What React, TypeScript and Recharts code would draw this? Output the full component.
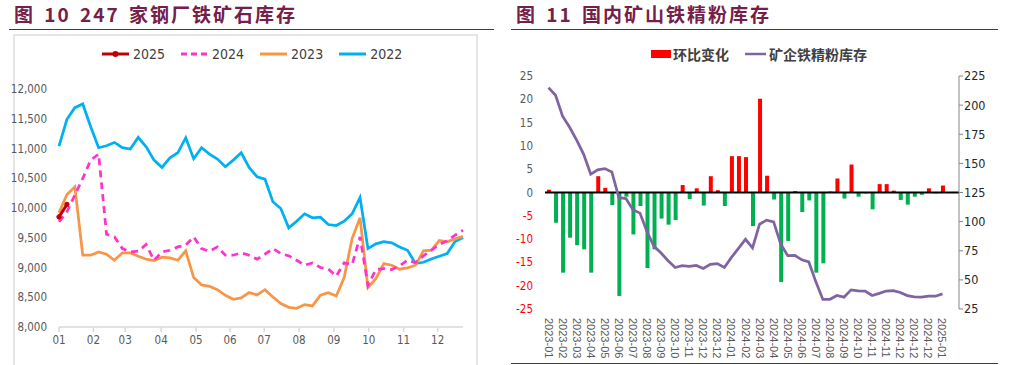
import React from "react";
import {
  LineChart,
  Line,
  XAxis,
  YAxis,
  ComposedChart,
  Bar,
  Cell,
  ReferenceLine,
} from "recharts";

const NUM_FONT =
  '"Liberation Sans Narrow", "DejaVu Sans Condensed", "Liberation Sans", Arial, sans-serif';
const CJK_FONT = '"Noto Sans CJK SC", "Noto Sans", sans-serif';
const TITLE_COLOR = "#74204A";

// ---- 图10: 247家钢厂铁矿石库存 (weekly, by year) ----
const monthTicks = [0, 4.35, 8.35, 12.9, 17.3, 21.6, 25.9, 30.3, 34.7, 39.1, 43.5, 47.8];
const monthLabels = ["01", "02", "03", "04", "05", "06", "07", "08", "09", "10", "11", "12"];

const inv2025 = [9850, 10060];
const inv2024 = [
  9767, 9935, 10216, 10497, 10805, 10906, 9560, 9515, 9318, 9262,
  9274, 9386, 9122, 9262, 9290, 9346, 9375, 9515, 9318, 9274,
  9346, 9206, 9206, 9246, 9206, 9139, 9223, 9318, 9234, 9195,
  9122, 9038, 9077, 8999, 8976, 8853, 9077, 9049, 9515, 8701,
  8965, 8982, 8965, 9027, 9122, 9083, 9195, 9290, 9386, 9447,
  9543, 9627,
];
const inv2023 = [
  9919, 10227, 10356, 9206, 9206, 9262, 9223, 9122, 9246, 9246,
  9189, 9139, 9116, 9173, 9161, 9122, 9279, 8830, 8707, 8684,
  8628, 8533, 8466, 8488, 8578, 8539, 8628, 8505, 8393, 8331,
  8314, 8376, 8354, 8533, 8578, 8522, 8830, 9487, 9835, 8662,
  8813, 9066, 9038, 8971, 8993, 9038, 9279, 9290, 9453, 9431,
  9481, 9526,
];
const inv2022 = [
  11041, 11490, 11686, 11748, 11366, 11013, 11046, 11102, 11013, 10990,
  11187, 11029, 10805, 10682, 10844, 10928, 11181, 10828, 11013, 10906,
  10822, 10693, 10805, 10928, 10682, 10525, 10485, 10104, 9992, 9666,
  9778, 9902, 9835, 9846, 9722, 9706, 9778, 9902, 10177, 9318,
  9397, 9436, 9414, 9346, 9290, 9066, 9088, 9144, 9189, 9234,
  9436, 9504,
];
const invTicks = [8000, 8500, 9000, 9500, 10000, 10500, 11000, 11500, 12000];

// ---- 图11: 国内矿山铁精粉库存 ----
const momChange = [
  0.6, -6.5, -17.2, -9.7, -11.3, -12.2, -17.2, 3.5, 1.0, -2.7,
  -22.2, -0.9, -9.0, -2.9, -16.2, -12.2, -5.6, -6.9, -5.9, 1.6,
  -1.4, 0.9, -2.8, 3.5, 0.5, -2.9, 7.8, 7.8, 7.6, -7.2,
  20.1, 3.6, -1.5, -19.2, -10.4, 0.3, -4.2, -1.7, -17.2, -15.2,
  0.2, 3.0, -1.3, 6.0, -0.9, -0.2, -3.6, 1.8, 1.8, 0.4,
  -1.6, -2.6, -0.9, -0.5, 0.9, -0.2, 1.5,
];
const mineStock = [
  215.0, 208.5, 190.5, 181.0, 170.0, 157.8, 140.8, 144.5, 145.5, 142.6,
  120.6, 119.8, 110.3, 107.3, 91.3, 78.8, 73.0, 66.4, 60.6, 62.2,
  61.6, 62.4, 59.8, 63.4, 64.0, 60.6, 69.3, 77.0, 84.8, 77.4,
  97.8, 101.3, 99.8, 80.9, 70.8, 71.1, 67.2, 65.4, 48.3, 33.2,
  33.3, 36.6, 35.2, 41.4, 40.5, 40.4, 36.6, 38.4, 40.4, 40.7,
  39.2, 36.5, 35.5, 35.2, 36.0, 36.0, 38.0,
];
// one label every second observation
const dateLabels = [
  "2023-01", "2023-02", "2023-03", "2023-04", "2023-05", "2023-06", "2023-07",
  "2023-08", "2023-09", "2023-10", "2023-11", "2023-12", "2023-12", "2024-01",
  "2024-02", "2024-03", "2024-04", "2024-05", "2024-06", "2024-07", "2024-08",
  "2024-09", "2024-10", "2024-11", "2024-11", "2024-12", "2024-12", "2024-12",
  "2025-01",
];
const momTicks = [-25, -20, -15, -10, -5, 0, 5, 10, 15, 20, 25];
const stockTicks = [25, 50, 75, 100, 125, 150, 175, 200, 225];

const invData = inv2022.map((v, i) => ({
  w: i,
  y2022: v,
  y2023: inv2023[i],
  y2024: inv2024[i],
  y2025: i < inv2025.length ? inv2025[i] : null,
}));

const mineData = momChange.map((v, i) => ({
  idx: i,
  mom: v,
  stock: mineStock[i],
}));

const fmtThousands = (v: number) => v.toLocaleString("en-US");

const Title = ({ left, text }: { left: number; text: string }) => (
  <div
    style={{
      position: "absolute",
      left,
      top: 2,
      fontFamily: CJK_FONT,
      fontWeight: 700,
      fontSize: 19,
      lineHeight: "24px",
      letterSpacing: 2,
      wordSpacing: 3,
      color: TITLE_COLOR,
      whiteSpace: "pre",
    }}
  >
    {text}
  </div>
);

const Rule = ({ left, width, top }: { left: number; width: number; top: number }) => (
  <div
    style={{
      position: "absolute",
      left,
      top,
      width,
      height: 0,
      borderTop: `1.5px solid ${TITLE_COLOR}`,
    }}
  />
);

const yearLegend = [
  { name: "2025", color: "#C00000", dash: "", dot: true },
  { name: "2024", color: "#FF33CC", dash: "6 4", dot: false },
  { name: "2023", color: "#F79646", dash: "", dot: false },
  { name: "2022", color: "#00B0F0", dash: "", dot: false },
];

const MomTick = ({ x, y, payload }: any) => (
  <text
    x={x}
    y={y}
    dy={4}
    textAnchor="end"
    fontSize={11.5}
    fontFamily={NUM_FONT}
    fill={payload.value < 0 ? "#FF0000" : "#595959"}
  >
    {payload.value}
  </text>
);

const DateTick = ({ x, y, payload }: any) => {
  const label = dateLabels[Math.round(payload.value / 2)];
  if (payload.value % 2 !== 0 || !label) return null;
  return (
    <text
      x={x}
      y={y}
      transform={`rotate(90 ${x} ${y})`}
      textAnchor="start"
      dominantBaseline="central"
      fontSize={11}
      fontFamily='"Liberation Sans", Arial, sans-serif'
      fill="#595959"
    >
      {label}
    </text>
  );
};

export default function App() {
  return (
    <div
      style={{
        position: "absolute",
        left: 0,
        top: 0,
        width: 1010,
        height: 365,
        background: "#fff",
        overflow: "hidden",
      }}
    >
      <Title left={14} text="图 10 247 家钢厂铁矿石库存" />
      <Rule left={9} width={485} top={29} />
      <Title left={516} text="图 11 国内矿山铁精粉库存" />
      <Rule left={511} width={487} top={29} />
      <Rule left={511} width={487} top={363} />

      {/* left panel frame */}
      <div
        style={{
          position: "absolute",
          left: 13,
          top: 34,
          width: 461,
          height: 340,
          border: "2px solid #E6E6E6",
        }}
      />

      {/* left legend */}
      <div
        style={{
          position: "absolute",
          left: 101,
          top: 45,
          height: 18,
          display: "flex",
          alignItems: "center",
          gap: 15,
          fontFamily: NUM_FONT,
          fontSize: 14,
          color: "#404040",
        }}
      >
        {yearLegend.map((s) => (
          <div key={s.name} style={{ display: "flex", alignItems: "center", gap: 3 }}>
            <svg width={29} height={10}>
              <line
                x1={1}
                y1={5}
                x2={28}
                y2={5}
                stroke={s.color}
                strokeWidth={3}
                strokeDasharray={s.dash}
              />
              {s.dot && <circle cx={14.5} cy={5} r={3} fill={s.color} />}
            </svg>
            <span>{s.name}</span>
          </div>
        ))}
      </div>

      <div style={{ position: "absolute", left: 0, top: 0 }}>
        <LineChart
          width={480}
          height={365}
          data={invData}
          margin={{ top: 89, right: 17, bottom: 0, left: 0 }}
        >
          <XAxis
            dataKey="w"
            type="number"
            domain={[0, 51]}
            ticks={monthTicks}
            interval={0}
            height={38}
            tickFormatter={(v) => monthLabels[monthTicks.indexOf(v)] ?? ""}
            axisLine={{ stroke: "#D9D9D9", strokeWidth: 1.5 }}
            tickLine={{ stroke: "#D9D9D9", strokeWidth: 1.5 }}
            tickSize={5}
            tickMargin={4}
            tick={{ fill: "#595959", fontSize: 11.5, fontFamily: NUM_FONT }}
          />
          <YAxis
            type="number"
            domain={[8000, 12000]}
            ticks={invTicks}
            interval={0}
            width={59}
            axisLine={false}
            tickLine={false}
            tickSize={0}
            tickMargin={12}
            tickFormatter={fmtThousands}
            tick={{ fill: "#595959", fontSize: 11.5, fontFamily: NUM_FONT }}
          />
          <Line
            dataKey="y2022"
            stroke="#00B0F0"
            strokeWidth={2.75}
            dot={false}
            isAnimationActive={false}
          />
          <Line
            dataKey="y2023"
            stroke="#F79646"
            strokeWidth={2.75}
            dot={false}
            isAnimationActive={false}
          />
          <Line
            dataKey="y2024"
            stroke="#FF33CC"
            strokeWidth={2.75}
            strokeDasharray="7 5"
            dot={false}
            isAnimationActive={false}
          />
          <Line
            dataKey="y2025"
            stroke="#C00000"
            strokeWidth={3}
            dot={{ r: 2.2, fill: "#C00000", stroke: "#C00000", strokeWidth: 1 }}
            connectNulls={false}
            isAnimationActive={false}
          />
        </LineChart>
      </div>

      {/* right legend */}
      <div
        style={{
          position: "absolute",
          left: 651,
          top: 45,
          height: 18,
          display: "flex",
          alignItems: "center",
          fontFamily: CJK_FONT,
          fontWeight: 700,
          fontSize: 14,
          color: "#404040",
        }}
      >
        <div style={{ width: 20, height: 8, background: "#FF0000", marginRight: 2 }} />
        <span>环比变化</span>
        <svg width={21} height={8} style={{ marginLeft: 16, marginRight: 3 }}>
          <line x1={0} y1={4} x2={21} y2={4} stroke="#8064A2" strokeWidth={2.5} />
        </svg>
        <span>矿企铁精粉库存</span>
      </div>

      <div style={{ position: "absolute", left: 505, top: 0 }}>
        <ComposedChart
          width={505}
          height={365}
          data={mineData}
          margin={{ top: 76, right: 0, bottom: 0, left: 0 }}
          barCategoryGap={0}
        >
          <XAxis
            dataKey="idx"
            type="category"
            interval={0}
            height={56}
            padding={{ left: 0, right: 13 }}
            axisLine={false}
            tickLine={false}
            tickSize={0}
            tickMargin={9}
            tick={<DateTick />}
          />
          <YAxis
            yAxisId="mom"
            type="number"
            domain={[-25, 25]}
            ticks={momTicks}
            interval={0}
            width={40}
            axisLine={false}
            tickLine={false}
            tickSize={0}
            tickMargin={12}
            tick={<MomTick />}
          />
          <YAxis
            yAxisId="stock"
            orientation="right"
            type="number"
            domain={[25, 225]}
            ticks={stockTicks}
            interval={0}
            width={51}
            axisLine={{ stroke: "#868686", strokeWidth: 1 }}
            tickLine={{ stroke: "#868686" }}
            tickSize={4}
            tickMargin={1}
            tick={{ fill: "#262626", fontSize: 12.5, fontFamily: NUM_FONT, textAnchor: "start" }}
          />
          <Bar yAxisId="mom" dataKey="mom" barSize={4} isAnimationActive={false}>
            {mineData.map((d) => (
              <Cell key={d.idx} fill={d.mom >= 0 ? "#FF0000" : "#00B050"} />
            ))}
          </Bar>
          <ReferenceLine yAxisId="mom" y={0} stroke="#000" strokeWidth={2} />
          <Line
            yAxisId="stock"
            dataKey="stock"
            stroke="#8064A2"
            strokeWidth={2.75}
            dot={false}
            isAnimationActive={false}
          />
        </ComposedChart>
      </div>
    </div>
  );
}
